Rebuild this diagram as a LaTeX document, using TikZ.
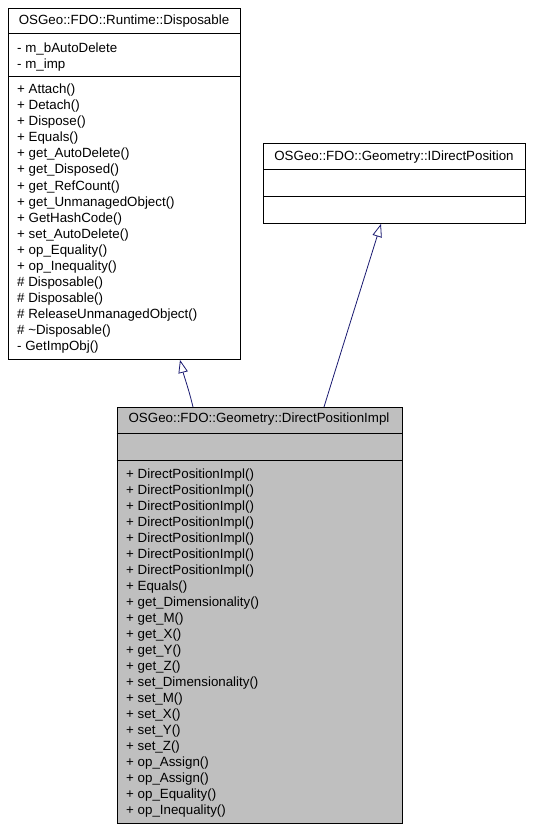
\documentclass[tikz,border=0pt]{standalone}
\usepackage{fontspec}
\setmainfont{Liberation Sans}
\usetikzlibrary{arrows.meta,calc}

\definecolor{edgeblue}{HTML}{191970}
\definecolor{implgray}{HTML}{BFBFBF}

\tikzset{
  classbox/.style={draw=black, line width=0.9pt, inner sep=0pt, anchor=north west},
  sepline/.style={draw=black, line width=0.9pt},
  member/.style={inner sep=0pt, anchor=base west, font=\fontsize{13.33}{16}\selectfont},
  title/.style={inner sep=0pt, anchor=base, font=\fontsize{13.33}{16}\selectfont},
  inherit/.style={draw=edgeblue, line width=0.8pt,
    -{Triangle[length=13pt, width=9.5pt, fill=white]}},
}

\begin{document}
\begin{tikzpicture}[x=1pt, y=-1pt]
\useasboundingbox (0,0) rectangle (533,829);

% ---- OSGeo::FDO::Runtime::Disposable ----
\node[classbox, minimum width=232pt, minimum height=351pt, fill=white] (disp) at (8,8) {};
\draw[sepline] (8,33) -- (240,33);
\draw[sepline] (8,76) -- (240,76);
\node[title] (disp-t) at (124,25) {OSGeo::FDO::Runtime::Disposable};
\node[member] (disp-a1) at (17,52.5) {- m\_bAutoDelete};
\node[member] (disp-a2) at (17,68.5) {- m\_imp};
\foreach \m [count=\i] in {%
  + Attach(), + Detach(), + Dispose(), + Equals(), + get\_AutoDelete(),
  + get\_Disposed(), + get\_RefCount(), + get\_UnmanagedObject(),
  + GetHashCode(), + set\_AutoDelete(), + op\_Equality(), + op\_Inequality(),
  \# Disposable(), \# Disposable(), \# ReleaseUnmanagedObject(),
  \# \textasciitilde Disposable(), - GetImpObj()}
  \node[member] (disp-m\i) at (17,{94+16*(\i-1)}) {\m};

% ---- OSGeo::FDO::Geometry::IDirectPosition ----
\node[classbox, minimum width=262pt, minimum height=79.5pt, fill=white] (idp) at (263,143.5) {};
\draw[sepline] (263,169) -- (525,169);
\draw[sepline] (263,196) -- (525,196);
\node[title] (idp-t) at (394,160.5) {OSGeo::FDO::Geometry::IDirectPosition};

% ---- OSGeo::FDO::Geometry::DirectPositionImpl ----
\node[classbox, minimum width=285pt, minimum height=416pt, fill=implgray] (impl) at (116.5,407) {};
\draw[sepline] (116.5,433) -- (401.5,433);
\draw[sepline] (116.5,460) -- (401.5,460);
\node[title] (impl-t) at (259,422.5) {OSGeo::FDO::Geometry::DirectPositionImpl};
\foreach \m [count=\i] in {%
  + DirectPositionImpl(), + DirectPositionImpl(), + DirectPositionImpl(),
  + DirectPositionImpl(), + DirectPositionImpl(), + DirectPositionImpl(),
  + DirectPositionImpl(), + Equals(), + get\_Dimensionality(), + get\_M(),
  + get\_X(), + get\_Y(), + get\_Z(), + set\_Dimensionality(), + set\_M(),
  + set\_X(), + set\_Y(), + set\_Z(), + op\_Assign(), + op\_Assign(),
  + op\_Equality(), + op\_Inequality()}
  \node[member] (impl-m\i) at (126,{478+16*(\i-1)}) {\m};

% ---- generalisation edges ----
\coordinate (impl-l) at ($(impl.north west)+(76.5,0)$);
\coordinate (impl-r) at ($(impl.north west)+(207.5,0)$);
\coordinate (disp-b) at ($(disp.south west)+(172,0)$);
\coordinate (idp-b)  at ($(idp.south west)+(118,0)$);
\draw[inherit] (impl-l) .. controls (189,390) and (184,376) .. (disp-b);
\draw[inherit] (impl-r) .. controls (340,355) and (362,285) .. (idp-b);
\end{tikzpicture}
\end{document}
